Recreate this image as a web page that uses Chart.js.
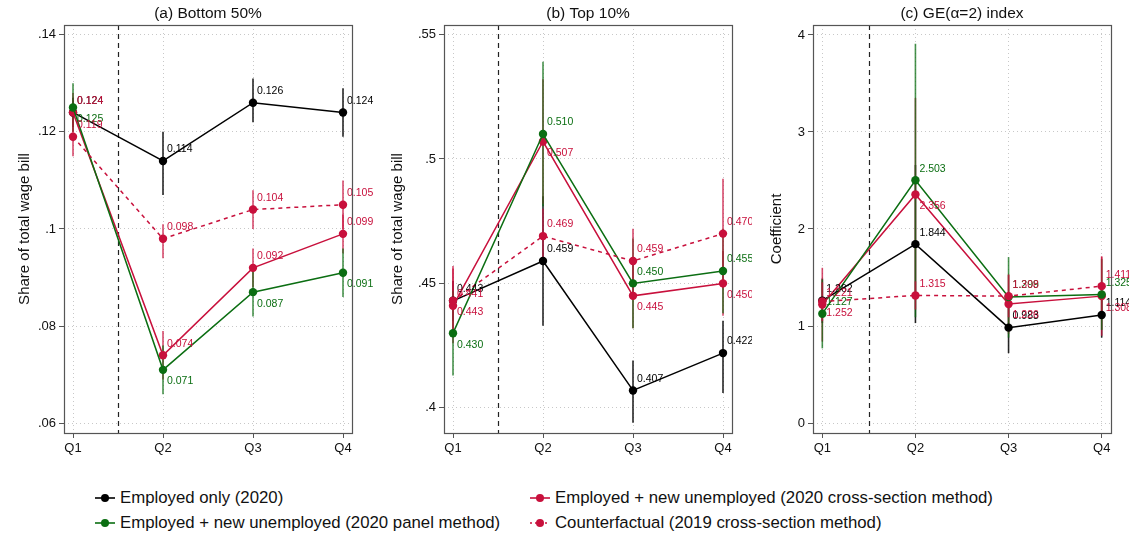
<!DOCTYPE html>
<html><head><meta charset="utf-8">
<script src="https://cdn.jsdelivr.net/npm/chart.js@4.4.1/dist/chart.umd.min.js"></script>
<style>
html,body{margin:0;padding:0;background:#fff;}
body{width:1129px;height:536px;position:relative;overflow:hidden;font-family:"Liberation Sans",Arial,Helvetica,sans-serif;}
canvas{position:absolute;top:0;}
.leg{position:absolute;font-size:16.8px;color:#111;white-space:nowrap;line-height:18px;}
.leg svg{position:absolute;left:-26px;top:0;}
</style>
</head><body>
<canvas id="ca" width="376" height="470" style="left:0px"></canvas>
<canvas id="cb" width="376" height="470" style="left:376px"></canvas>
<canvas id="cc" width="377" height="470" style="left:752px"></canvas>
<div class="leg" style="left:120px;top:489px"><svg width="22" height="18"><line x1="1" y1="9" x2="21" y2="9" stroke="#000" stroke-width="1.6"/><circle cx="11" cy="9" r="4" fill="#000"/></svg>Employed only (2020)</div>
<div class="leg" style="left:120px;top:514px"><svg width="22" height="18"><line x1="1" y1="9" x2="21" y2="9" stroke="#0b6e12" stroke-width="1.6"/><circle cx="11" cy="9" r="4" fill="#0b6e12"/></svg>Employed + new unemployed (2020 panel method)</div>
<div class="leg" style="left:555px;top:489px"><svg width="22" height="18"><line x1="1" y1="9" x2="21" y2="9" stroke="#c8103c" stroke-width="1.6"/><circle cx="11" cy="9" r="4" fill="#c8103c"/></svg>Employed + new unemployed (2020 cross-section method)</div>
<div class="leg" style="left:555px;top:514px"><svg width="22" height="18"><line x1="1" y1="9" x2="21" y2="9" stroke="#c8103c" stroke-width="1.6" stroke-dasharray="2,3"/><circle cx="11" cy="9" r="4" fill="#c8103c"/></svg>Counterfactual (2019 cross-section method)</div>
<script>
// ---------- data ----------
const quarters = ['Q1', 'Q2', 'Q3', 'Q4'];
const seriesNames = ['Employed only (2020)', 'Employed + new unemployed (2020 cross-section method)',
                     'Employed + new unemployed (2020 panel method)', 'Counterfactual (2019 cross-section method)'];

// (a) Bottom 50%
const aEmp      = [0.124, 0.114, 0.126, 0.124];
const aEmpLo    = [0.121, 0.107, 0.122, 0.119];
const aEmpHi    = [0.127, 0.120, 0.131, 0.129];
const aCross    = [0.124, 0.074, 0.092, 0.099];
const aCrossLo  = [0.120, 0.069, 0.088, 0.095];
const aCrossHi  = [0.128, 0.079, 0.096, 0.103];
const aPanel    = [0.125, 0.071, 0.087, 0.091];
const aPanelLo  = [0.120, 0.066, 0.082, 0.086];
const aPanelHi  = [0.130, 0.076, 0.092, 0.096];
const aCf       = [0.119, 0.098, 0.104, 0.105];
const aCfLo     = [0.115, 0.094, 0.100, 0.100];
const aCfHi     = [0.123, 0.101, 0.108, 0.110];
const aTicks    = [0.06, 0.08, 0.10, 0.12, 0.14];
const aTickLbl  = ['.06', '.08', '.1', '.12', '.14'];

// (b) Top 10%
const bEmp      = [0.443, 0.459, 0.407, 0.422];
const bEmpLo    = [0.435, 0.433, 0.394, 0.406];
const bEmpHi    = [0.451, 0.485, 0.419, 0.435];
const bCross    = [0.441, 0.507, 0.445, 0.450];
const bCrossLo  = [0.426, 0.482, 0.432, 0.437];
const bCrossHi  = [0.456, 0.532, 0.458, 0.463];
const bPanel    = [0.430, 0.510, 0.450, 0.455];
const bPanelLo  = [0.413, 0.481, 0.432, 0.438];
const bPanelHi  = [0.447, 0.539, 0.468, 0.472];
const bCf       = [0.443, 0.469, 0.459, 0.470];
const bCfLo     = [0.429, 0.458, 0.446, 0.448];
const bCfHi     = [0.457, 0.480, 0.472, 0.492];
const bTicks    = [0.40, 0.45, 0.50, 0.55];
const bTickLbl  = ['.4', '.45', '.5', '.55'];

// (c) GE(alpha=2) index
const cEmp      = [1.262, 1.844, 0.983, 1.114];
const cEmpLo    = [1.03, 1.03, 0.72, 0.88];
const cEmpHi    = [1.49, 2.66, 1.25, 1.35];
const cCross    = [1.221, 2.356, 1.226, 1.308];
const cCrossLo  = [0.84, 1.36, 0.92, 0.90];
const cCrossHi  = [1.60, 3.35, 1.53, 1.72];
const cPanel    = [1.127, 2.503, 1.299, 1.325];
const cPanelLo  = [0.77, 1.09, 0.88, 0.96];
const cPanelHi  = [1.48, 3.91, 1.71, 1.69];
const cCf       = [1.252, 1.315, 1.308, 1.411];
const cCfLo     = [1.05, 1.17, 1.09, 1.11];
const cCfHi     = [1.45, 1.46, 1.53, 1.71];
const cTicks    = [0, 1, 2, 3, 4];
const cTickLbl  = ['0', '1', '2', '3', '4'];

// ---------- style ----------
const COL = {emp: '#000000', cross: '#c8103c', panel: '#0b6e12', cf: '#c8103c'};
const CI_COL = {emp: 'rgba(0,0,0,0.85)', cross: 'rgba(200,16,60,0.75)', panel: 'rgba(11,110,18,0.75)', cf: 'rgba(200,16,60,0.75)'};
// label side per point: -1 above, +1 below
const SIDES = {
  a: {emp: [-1,-1,-1,-1], cross: [-1,-1,-1,-1], panel: [1,1,1,1], cf: [-1,-1,-1,-1]},
  b: {emp: [-1,-1,-1,-1], cross: [-1,1,1,1], panel: [1,-1,-1,-1], cf: [1,-1,-1,-1]},
  c: {emp: [-1,-1,-1,-1], cross: [-1,1,1,1], panel: [-1,-1,-1,-1], cf: [1,-1,-1,-1]}
};

function ds(key, vals, lo, hi, sides, order) {
  return {
    label: seriesNames[['emp','cross','panel','cf'].indexOf(key)],
    data: vals.map((v, i) => ({x: i + 1, y: v})),
    lo: lo, hi: hi, sides: sides, key: key,
    borderColor: COL[key], backgroundColor: COL[key],
    pointBackgroundColor: COL[key], pointBorderWidth: 0, pointRadius: 4.2,
    borderWidth: 1.5, borderDash: key === 'cf' ? [4, 4] : [],
    tension: 0, order: order
  };
}

const decor = {
  id: 'decor',
  beforeDatasetsDraw(chart) {
    const {ctx, chartArea: a, scales: {x, y}} = chart;
    ctx.save();
    ctx.strokeStyle = '#222'; ctx.lineWidth = 1.2; ctx.setLineDash([5, 4]);
    const xp = Math.round(x.getPixelForValue(1.5)) + 0.5;
    ctx.beginPath(); ctx.moveTo(xp, a.top); ctx.lineTo(xp, a.bottom); ctx.stroke();
    ctx.setLineDash([]);
    const dsets = chart.data.datasets.slice().sort((p, q) => q.order - p.order);
    dsets.forEach(d => {
      ctx.strokeStyle = CI_COL[d.key]; ctx.lineWidth = 1.6;
      d.lo.forEach((lo, i) => {
        const px = x.getPixelForValue(i + 1);
        ctx.beginPath();
        ctx.moveTo(px, Math.min(a.bottom, y.getPixelForValue(lo)));
        ctx.lineTo(px, Math.max(a.top, y.getPixelForValue(d.hi[i])));
        ctx.stroke();
      });
    });
    ctx.restore();
  },
  afterDatasetsDraw(chart) {
    const {ctx, scales: {x, y}} = chart;
    ctx.save();
    ctx.font = '10.5px "Liberation Sans", Arial, sans-serif';
    ctx.textAlign = 'left'; ctx.textBaseline = 'middle';
    const dsets = chart.data.datasets.slice().sort((p, q) => q.order - p.order);
    dsets.forEach(d => {
      ctx.fillStyle = COL[d.key];
      d.data.forEach((pt, i) => {
        const px = x.getPixelForValue(pt.x), py = y.getPixelForValue(pt.y);
        ctx.fillText(pt.y.toFixed(3), px + 4, py + d.sides[i] * 11.5);
      });
    });
    ctx.restore();
  },
  afterDraw(chart) {
    const {ctx, chartArea: a} = chart;
    ctx.save();
    ctx.strokeStyle = '#555'; ctx.lineWidth = 1.2;
    ctx.strokeRect(Math.round(a.left) + 0.5, Math.round(a.top) + 0.5, Math.round(a.right - a.left), Math.round(a.bottom - a.top));
    ctx.fillStyle = '#111';
    ctx.font = '15.5px "Liberation Sans", Arial, sans-serif';
    ctx.textAlign = 'center'; ctx.textBaseline = 'middle';
    ctx.fillText(chart.options.plugins.panelTitle, (a.left + a.right) / 2, 14);
    ctx.restore();
  }
};

function makeChart(id, title, ytitle, sets, yMin, yMax, ticks, tickLbl, padL, yW, padR) {
  return new Chart(document.getElementById(id), {
    type: 'line',
    data: {datasets: sets},
    plugins: [decor],
    options: {
      responsive: false, animation: false, devicePixelRatio: 1,
      layout: {padding: {left: padL, right: padR, top: 25, bottom: 0}},
      plugins: {legend: {display: false}, tooltip: {enabled: false}, panelTitle: title},
      scales: {
        x: {
          type: 'linear', min: 0.9, max: 4.1,
          afterBuildTicks: s => { s.ticks = quarters.map((q, i) => ({value: i + 1})); },
          afterFit: s => { s.height = 37; },
          ticks: {callback: v => quarters[v - 1], color: '#111', padding: 3,
                  font: {size: 13, family: '"Liberation Sans", Arial, sans-serif'}},
          grid: {color: '#c8c8c8', lineWidth: 1, tickLength: 5, tickColor: '#555', tickBorderDash: [], tickWidth: 1},
          border: {display: false, dash: [1, 3]}
        },
        y: {
          type: 'linear', min: yMin, max: yMax,
          afterBuildTicks: s => { s.ticks = ticks.map(v => ({value: v})); },
          afterFit: s => { s.width = yW; },
          ticks: {callback: (v, i) => tickLbl[ticks.findIndex(t => Math.abs(t - v) < 1e-9)], color: '#111', padding: 3,
                  font: {size: 13, family: '"Liberation Sans", Arial, sans-serif'}},
          grid: {color: '#c8c8c8', lineWidth: 1, tickLength: 5, tickColor: '#555', tickBorderDash: [], tickWidth: 1},
          border: {display: false, dash: [1, 3]},
          title: {display: true, text: ytitle, color: '#111', padding: {top: 6, bottom: 0},
                  font: {size: 15, family: '"Liberation Sans", Arial, sans-serif'}}
        }
      }
    }
  });
}

makeChart('ca', '(a) Bottom 50%', 'Share of total wage bill', [
  ds('emp', aEmp, aEmpLo, aEmpHi, SIDES.a.emp, 4),
  ds('cross', aCross, aCrossLo, aCrossHi, SIDES.a.cross, 3),
  ds('panel', aPanel, aPanelLo, aPanelHi, SIDES.a.panel, 2),
  ds('cf', aCf, aCfLo, aCfHi, SIDES.a.cf, 1)
], 0.058, 0.142, aTicks, aTickLbl, 10, 54, 24);

makeChart('cb', '(b) Top 10%', 'Share of total wage bill', [
  ds('emp', bEmp, bEmpLo, bEmpHi, SIDES.b.emp, 4),
  ds('cross', bCross, bCrossLo, bCrossHi, SIDES.b.cross, 3),
  ds('panel', bPanel, bPanelLo, bPanelHi, SIDES.b.panel, 2),
  ds('cf', bCf, bCfLo, bCfHi, SIDES.b.cf, 1)
], 0.3899, 0.5538, bTicks, bTickLbl, 7, 61, 20);

makeChart('cc', '(c) GE(α=2) index', 'Coefficient', [
  ds('emp', cEmp, cEmpLo, cEmpHi, SIDES.c.emp, 4),
  ds('cross', cCross, cCrossLo, cCrossHi, SIDES.c.cross, 3),
  ds('panel', cPanel, cPanelLo, cPanelHi, SIDES.c.panel, 2),
  ds('cf', cCf, cCfLo, cCfHi, SIDES.c.cf, 1)
], -0.103, 4.103, cTicks, cTickLbl, 10, 51, 18);
</script>
</body></html>
